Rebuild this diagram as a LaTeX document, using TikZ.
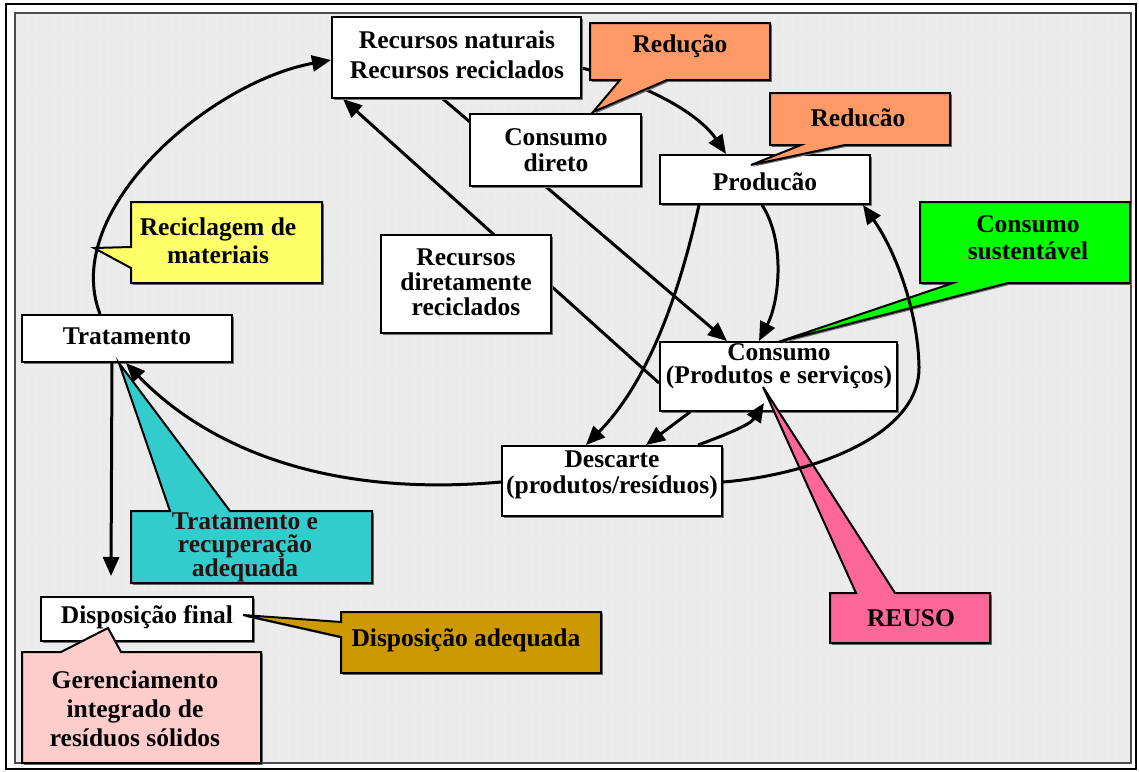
\documentclass[tikz,border=0pt]{standalone}
\usepackage{fontspec}
\setmainfont{Liberation Serif}
\usetikzlibrary{arrows.meta,calc,shadows}
\pgfdeclarelayer{bg}
\pgfdeclarelayer{under}
\pgfsetlayers{bg,under,main}

\definecolor{paper}{HTML}{EBEBEB}
\definecolor{gridtone}{HTML}{F2F2F2}
\definecolor{cSalmon}{HTML}{FF9966}
\definecolor{cLemon}{HTML}{FFFF66}
\definecolor{cGreen}{HTML}{00FF00}
\definecolor{cTeal}{HTML}{33CCCC}
\definecolor{cGold}{HTML}{CC9900}
\definecolor{cRose}{HTML}{FF6699}
\definecolor{cBlush}{HTML}{FFCCCC}
\definecolor{cInk}{HTML}{2A1010}

\tikzset{
  box/.style={draw=black, line width=2pt, fill=white, inner sep=0pt,
    drop shadow={shadow xshift=1.8pt, shadow yshift=-1.8pt, fill=black!55, opacity=1}},
  txt/.style={font=\bfseries\fontsize{25.5}{#1}\selectfont, align=center, inner sep=0pt},
  txt/.default=29,
  flow/.style={line width=3pt, -{Triangle[length=19pt,width=16pt]}},
  bubble/.style={draw=black, line width=2pt, fill=#1, line join=miter,
    drop shadow={shadow xshift=1.8pt, shadow yshift=-1.8pt, fill=black!55, opacity=1}},
}

\begin{document}
\begin{tikzpicture}[x=1pt, y=-1pt]
\useasboundingbox (0,0) rectangle (1139,771);

% page, frame and dotted paper
\begin{pgfonlayer}{bg}
  \fill[white] (0,0) rectangle (1139,771);
  \fill[paper] (15,13) rectangle (1131,763);
  \draw[gridtone, line width=0.8pt, dotted, step=9] (15,13) grid (1131,763);
  \draw[black!70, line width=1.5pt] (15,13) rectangle (1131,763);
  \draw[black, line width=2pt] (6,4) rectangle (1136,769);
\end{pgfonlayer}

% white boxes
\node[box, minimum width=249pt, minimum height=81pt] (rn) at (456.5,57.5) {};
\node[box, minimum width=171pt, minimum height=72pt] (cd) at (555.5,150) {};
\node[box, minimum width=210pt, minimum height=49pt] (pr) at (765,179.5) {};
\node[box, minimum width=170pt, minimum height=98pt] (rd) at (466,284) {};
\node[box, minimum width=237pt, minimum height=69pt] (co) at (778.5,376.5) {};
\node[box, minimum width=220pt, minimum height=70pt] (de) at (612,481) {};
\node[box, minimum width=210pt, minimum height=47pt] (tr) at (127,338.5) {};
\node[box, minimum width=212pt, minimum height=44pt] (df) at (147,619) {};

\node[txt=30] (rn-t) at (457,55) {Recursos naturais\\Recursos reciclados};
\node[txt=26] (cd-t) at (556,150) {Consumo\\direto};
\node[txt] (pr-t) at (765,182) {Producão};
\node[txt=25] (rd-t) at (466,282) {Recursos\\diretamente\\reciclados};
\node[txt=23] (co-t) at (779,366) {Consumo\\(Produtos e serviços)};
\node[txt=26] (de-t) at (612,475) {Descarte\\(produtos/resíduos)};
\node[txt] (tr-t) at (127,336) {Tratamento};
\node[txt] (df-t) at (147,617) {Disposição final};

% flows that run behind the boxes
\begin{pgfonlayer}{under}
  \draw[flow] ([xshift=112pt]rn.south west) -- ([xshift=68pt]co.north west);
  \draw[flow] ([yshift=-6.5pt]co.west) -- ([xshift=12pt]rn.south west);
  \draw[flow] ([yshift=-10.5pt]rn.east) .. controls (650,85) and (700,115) .. ([xshift=67pt]pr.north west);
\end{pgfonlayer}

% callouts
\draw[bubble=cSalmon] (590,23) -- (770,23) -- (770,80) -- (667,80) -- (593,112) -- (620,80) -- (590,80) -- cycle;
\node[txt] (red1) at (680,46) {Redução};

\draw[bubble=cSalmon] (770,93) -- (950,93) -- (950,145) -- (845,145) -- (751,165) -- (801,145) -- (770,145) -- cycle;
\node[txt] (red2) at (858,118) {Reducão};

\draw[bubble=cGreen] (920,202) -- (1130,202) -- (1130,283) -- (1008,283) -- (778,342) -- (953,283) -- (920,283) -- cycle;
\node[txt=27] (sus) at (1028,238) {Consumo\\sustentável};

\draw[bubble=cLemon] (131,202) -- (322,202) -- (322,283) -- (131,283) -- (131,268) -- (94,248) -- (131,247) -- cycle;
\node[txt=28] (rec) at (218,241) {Reciclagem de\\materiais};

\draw[bubble=cTeal] (131,511) -- (170,511) -- (119,363) -- (230,511) -- (372,511) -- (372,583) -- (131,583) -- cycle;
\node[txt=23.5, text=cInk] (trr) at (245,547) {Tratamento e\\recuperação\\adequada};

\draw[bubble=cGold] (341,612) -- (601,612) -- (601,673) -- (341,673) -- (341,637) -- (243,615) -- (341,622) -- cycle;
\node[txt] (dad) at (466,640) {Disposição adequada};

\draw[bubble=cBlush] (22,652) -- (61,652) -- (108,628) -- (121,652) -- (261,652) -- (261,763) -- (22,763) -- cycle;
\node[txt] (ger) at (135,709) {Gerenciamento\\integrado de\\resíduos sólidos};

\draw[bubble=cRose] (830,593) -- (856,593) -- (763,387) -- (895,593) -- (990,593) -- (990,643) -- (830,643) -- cycle;
\node[txt] (reu) at (911,618) {REUSO};

% flows drawn over the boxes and callouts
\coordinate (loop) at (919,367);
\draw[flow] ([xshift=79pt]tr.north west) .. controls (60,210) and (210,82) .. ([yshift=-2.5pt]rn.west);
\draw[flow] ([xshift=40pt]pr.south west) .. controls (680,290) and (650,380) .. ([xshift=85pt]de.north west);
\draw[flow] ([xshift=103pt]pr.south west) .. controls (785,240) and (780,300) .. ([xshift=100pt]co.north west);
\draw[flow] ([yshift=-1pt]de.east) .. controls (800,476) and (920,440) .. (loop)
  .. controls (918,310) and (895,250) .. ([xshift=204pt]pr.south west);
\draw[flow] ([xshift=31pt]co.south west) -- ([xshift=145pt]de.north west);
\draw[flow] ([xshift=197pt]de.north west) .. controls (725,435) and (750,425) .. ([xshift=105pt,yshift=9pt]co.south west);
\draw[flow] ([yshift=-1pt]de.west) .. controls (300,500) and (190,430) .. ([xshift=-1pt]tr.south);
\draw[flow] ([xshift=-15pt]tr.south) -- ([xshift=71pt,yshift=20pt]df.north west);
\end{tikzpicture}
\end{document}
